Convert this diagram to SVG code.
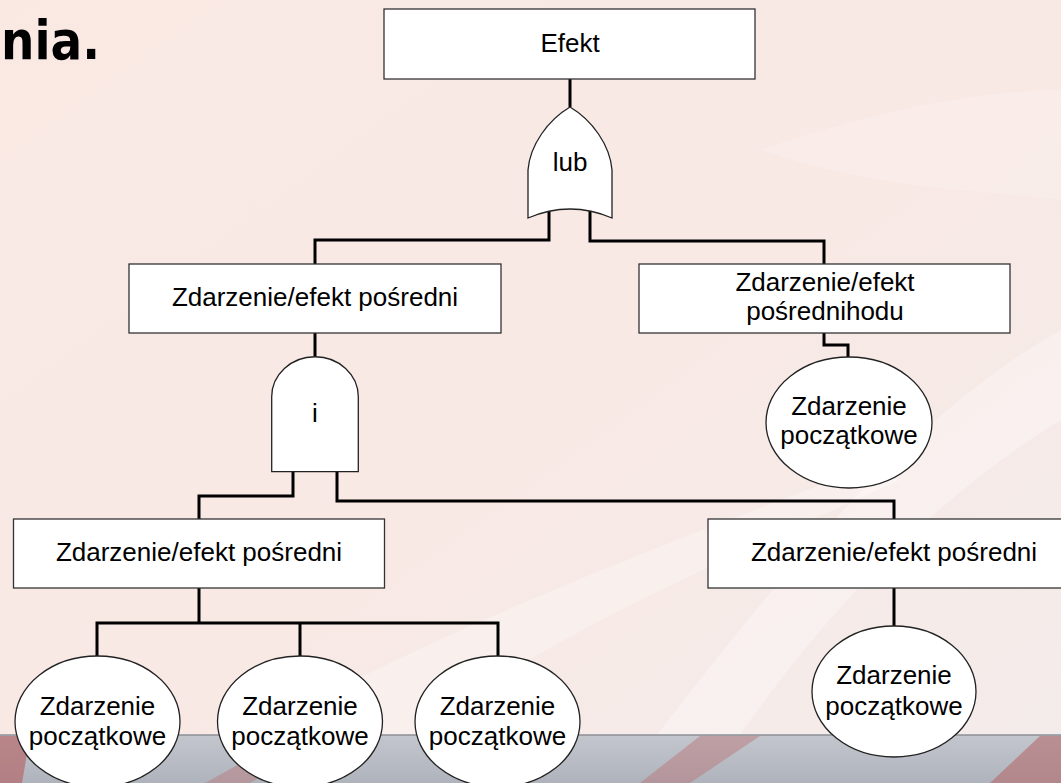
<svg xmlns="http://www.w3.org/2000/svg" width="1061" height="783" viewBox="0 0 1061 783">
<defs>
<linearGradient id="bg" x1="0" y1="0" x2="1" y2="1">
<stop offset="0" stop-color="#FAE9E3"/>
<stop offset="0.55" stop-color="#F8E9E5"/>
<stop offset="1" stop-color="#F3ECEB"/>
</linearGradient>
<linearGradient id="band" x1="0" y1="0" x2="0" y2="1">
<stop offset="0" stop-color="#C3C6CD"/>
<stop offset="1" stop-color="#AFB3BC"/>
</linearGradient>
<style>
.box{fill:#FFFFFF;stroke:#333333;stroke-width:1.3}
.gate{fill:#FFFFFF;stroke:#222222;stroke-width:1.3}
.ev{fill:#FFFFFF;stroke:#222222;stroke-width:1.3}
.t{font-family:"Liberation Sans",Arial,sans-serif;font-size:26px;fill:#000000;text-anchor:middle}
.c{fill:none;stroke:#000000;stroke-width:3}
</style>
</defs>
<rect x="0" y="0" width="1061" height="783" fill="url(#bg)"/>
<path d="M620,783 C760,600 900,420 1061,330 L1061,420 C930,500 820,620 740,735 Z" fill="#FFFFFF" opacity="0.3"/>
<path d="M250,735 C420,640 620,560 860,470 L900,480 C700,570 520,650 420,735 Z" fill="#FFFFFF" opacity="0.3"/>
<path d="M760,150 C880,110 980,90 1061,90 L1061,200 C980,190 880,190 760,150 Z" fill="#FFFFFF" opacity="0.15"/>
<rect x="0" y="735" width="1061" height="48" fill="url(#band)"/>
<line x1="0" y1="735" x2="1061" y2="735" stroke="#8E8F96" stroke-width="1.5"/>
<path d="M0,736 L30,736 L22,783 L0,783 Z" fill="#B46A6C" opacity="0.7"/>
<path d="M205,783 L290,736 L330,736 L250,783 Z" fill="#B87678" opacity="0.45"/>
<path d="M640,783 L700,736 L760,736 L690,783 Z" fill="#B87074" opacity="0.45"/>
<path d="M990,783 L1040,736 L1061,736 L1061,783 Z" fill="#B46A6C" opacity="0.6"/>
<text x="1" y="59" font-family="'DejaVu Sans',Verdana,sans-serif" font-weight="bold" font-size="54" textLength="99" lengthAdjust="spacingAndGlyphs" fill="#000000">nia.</text>
<g id="connectors">
<path class="c" d="M570,79 V107"/>
<path class="c" d="M549,211 V240 H315 V264"/>
<path class="c" d="M590,211 V241 H824 V264"/>
<path class="c" d="M315,333 V357"/>
<path class="c" d="M293,472 V496 H199 V519"/>
<path class="c" d="M337,472 V501 H894 V519"/>
<path class="c" d="M824,333 V345 H848 V357"/>
<path class="c" d="M199,588 V623"/>
<path class="c" d="M97,656 V623 H498 V656"/>
<path class="c" d="M300,623 V656"/>
<path class="c" d="M894,588 V626"/>
</g>
<g id="n-efekt">
<rect class="box" x="384" y="9" width="371" height="70"/>
<text class="t" x="570" y="52">Efekt</text>
</g>
<g id="g-lub">
<path class="gate" d="M570,107 C548,120 530,145 528,170 L528,218 Q570,200 612,218 L612,170 C610,145 592,120 570,107 Z"/>
<text class="t" x="570" y="171">lub</text>
</g>
<g id="n-mid-left">
<rect class="box" x="129" y="264" width="372" height="69"/>
<text class="t" x="315" y="306">Zdarzenie/efekt pośredni</text>
</g>
<g id="n-mid-right">
<rect class="box" x="639" y="264" width="371" height="69"/>
<text class="t" x="825" y="291">Zdarzenie/efekt</text>
<text class="t" x="825" y="320">pośrednihodu</text>
</g>
<g id="g-i">
<path class="gate" d="M271.7,471.7 L271.7,396.7 A43.3,40 0 0 1 358.3,396.7 L358.3,471.7 Z"/>
<text class="t" x="315" y="422">i</text>
</g>
<g id="e-top-right">
<ellipse class="ev" cx="849" cy="422.5" rx="83" ry="65.5"/>
<text class="t" x="849" y="415">Zdarzenie</text>
<text class="t" x="849" y="444">początkowe</text>
</g>
<g id="n-bot-left">
<rect class="box" x="13.5" y="519" width="371" height="69"/>
<text class="t" x="199" y="561">Zdarzenie/efekt pośredni</text>
</g>
<g id="n-bot-right">
<rect class="box" x="708" y="519" width="372" height="69"/>
<text class="t" x="894" y="561">Zdarzenie/efekt pośredni</text>
</g>
<g id="e-bot-1">
<ellipse class="ev" cx="97.5" cy="721.5" rx="82.5" ry="65.5"/>
<text class="t" x="97.5" y="715">Zdarzenie</text>
<text class="t" x="97.5" y="745">początkowe</text>
</g>
<g id="e-bot-2">
<ellipse class="ev" cx="300" cy="721.5" rx="82.5" ry="65.5"/>
<text class="t" x="300" y="715">Zdarzenie</text>
<text class="t" x="300" y="745">początkowe</text>
</g>
<g id="e-bot-3">
<ellipse class="ev" cx="497.5" cy="721.5" rx="82.5" ry="65.5"/>
<text class="t" x="497.5" y="715">Zdarzenie</text>
<text class="t" x="497.5" y="745">początkowe</text>
</g>
<g id="e-bot-right">
<ellipse class="ev" cx="894" cy="691.5" rx="82" ry="65.5"/>
<text class="t" x="894" y="684">Zdarzenie</text>
<text class="t" x="894" y="715">początkowe</text>
</g>
</svg>
